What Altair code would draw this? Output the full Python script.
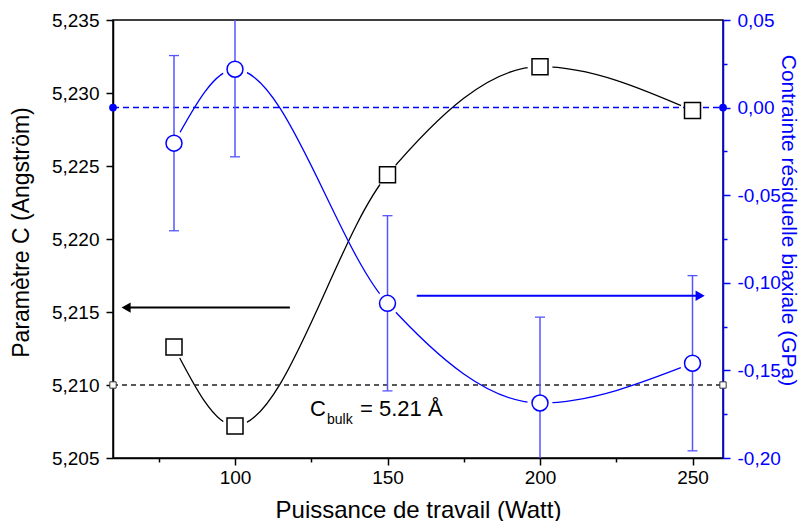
import altair as alt
import pandas as pd

# ---------------- data ----------------
watt = [80, 100, 150, 200, 250]
param_c = [5.2126, 5.2072, 5.2244, 5.2318, 5.2288]          # left axis (Angström)
stress = [-0.0203, 0.0219, -0.1117, -0.1686, -0.1459]        # right axis (GPa)
stress_err = [0.050, 0.050, 0.050, 0.049, 0.050]

x_domain = [60, 260]
c_domain = [5.205, 5.235]
s_domain = [-0.20, 0.05]
c_bulk = 5.21
stress_zero = 0.0

x_ticks = [75, 100, 125, 150, 175, 200, 225, 250]
c_ticks = [5.205, 5.2075, 5.21, 5.2125, 5.215, 5.2175, 5.22, 5.2225, 5.225,
           5.2275, 5.23, 5.2325, 5.235]
s_ticks = [-0.2, -0.175, -0.15, -0.125, -0.1, -0.075, -0.05, -0.025, 0.0,
           0.025, 0.05]

# annotation anchors (data units)
arrow_left = {"x0": 118.0, "x1": 64.3, "y": 5.2153}
arrow_right = {"x0": 159.6, "x1": 252.5, "y": -0.1074}
label_anchor = {"x": 124.6, "y": 5.20788}

BLUE = "#0000ff"
ERR = "#5555ff"
FONT = "Liberation Sans"

df = pd.DataFrame({
    "watt": watt,
    "c": param_c,
    "s": stress,
    "lo": [v - e for v, e in zip(stress, stress_err)],
    "hi": [v + e for v, e in zip(stress, stress_err)],
})

# blue reference line (0 GPa) expressed in left-axis units
zero_in_c = c_domain[0] + (stress_zero - s_domain[0]) / (s_domain[1] - s_domain[0]) * (c_domain[1] - c_domain[0])
ref_c = pd.DataFrame({"watt": x_domain, "c": [c_bulk, c_bulk]})
ref_s = pd.DataFrame({"watt": x_domain, "c": [zero_in_c, zero_in_c]})
arrL = pd.DataFrame([arrow_left])
arrR = pd.DataFrame([arrow_right])
lab = pd.DataFrame([label_anchor])

xs = alt.Scale(domain=x_domain, nice=False, zero=False)
cs = alt.Scale(domain=c_domain, nice=False, zero=False)
ss = alt.Scale(domain=s_domain, nice=False, zero=False)

x_axis = alt.Axis(
    values=x_ticks,
    labelExpr="datum.value % 50 == 0 ? datum.label : ''",
    tickSize={"condition": {"test": "datum.value % 50 == 0", "value": 7}, "value": 4},
    title="Puissance de travail (Watt)",
    titleX=305, titleY=52, titleAlign="center", titleBaseline="middle",
    titleFontSize=24,
    labelPadding=3,
)
left_axis = alt.Axis(
    orient="left",
    values=c_ticks,
    labelExpr="round(datum.value*1000) % 5 == 0 ? replace(format(datum.value, '.3f'), '.', ',') : ''",
    tickSize={"condition": {"test": "round(datum.value*1000) % 5 == 0", "value": 7}, "value": 4},
    title="Paramètre C (Angström)",
    titleX=-92, titleY=212, titleAngle=270, titleAlign="center", titleBaseline="middle",
    titleFontSize=23,
    labelPadding=7,
)
right_axis = alt.Axis(
    orient="right",
    values=s_ticks,
    labelExpr="round(datum.value*1000) % 50 == 0 ? replace(replace(format(datum.value, '.2f'), '.', ','), '−', '-') : ''",
    tickSize={"condition": {"test": "round(datum.value*1000) % 50 == 0", "value": 7}, "value": 4},
    title="Contrainte résiduelle biaxiale (GPa)",
    titleX=64, titleY=200, titleAngle=90, titleAlign="center", titleBaseline="middle",
    titleFontSize=21,
    labelPadding=7,
    domainColor=BLUE, tickColor=BLUE, labelColor=BLUE, titleColor=BLUE,
)

X = alt.X("watt:Q", scale=xs)
YC = lambda f: alt.Y(f, scale=cs)
YS = lambda f: alt.Y(f, scale=ss)

# ---------------- left (black) group ----------------
black_line = alt.Chart(df).mark_line(interpolate="monotone", color="black", strokeWidth=1.3).encode(
    x=alt.X("watt:Q", scale=xs, axis=x_axis),
    y=alt.Y("c:Q", scale=cs, axis=left_axis),
)
black_halo = alt.Chart(df).mark_point(shape="circle", filled=True, color="white", size=620, opacity=1).encode(
    x=X, y=YC("c:Q")
)
blue_ref = alt.Chart(ref_s).mark_line(color=BLUE, strokeWidth=1.5, strokeDash=[6, 4]).encode(
    x=X, y=YC("c:Q")
)
blue_ref_ends = alt.Chart(ref_s).mark_point(shape="circle", filled=True, color=BLUE, size=60, opacity=1, clip=False).encode(
    x=X, y=YC("c:Q")
)
black_ref = alt.Chart(ref_c).mark_line(color="#222222", strokeWidth=1.3, strokeDash=[5, 4]).encode(
    x=X, y=YC("c:Q")
)
black_ref_ends = alt.Chart(ref_c).mark_point(shape="square", filled=True, fill="white", stroke="#333333",
                                             strokeWidth=1, size=40, opacity=1, clip=False).encode(
    x=X, y=YC("c:Q")
)
squares = alt.Chart(df).mark_point(shape="square", filled=True, fill="white", stroke="black",
                                   strokeWidth=1.5, size=256, opacity=1).encode(
    x=X, y=YC("c:Q")
)
arrowL_line = alt.Chart(arrL).mark_rule(color="black", strokeWidth=2).encode(
    x=alt.X("x0:Q", scale=xs), x2="x1:Q", y=YC("y:Q")
)
arrowL_head = alt.Chart(arrL).mark_point(shape="triangle-left", filled=True, color="black", size=110, opacity=1).encode(
    x=alt.X("x1:Q", scale=xs), y=YC("y:Q")
)
txt_C = alt.Chart(lab).mark_text(text="C", align="left", baseline="alphabetic", fontSize=22, font=FONT, color="black").encode(
    x=alt.X("x:Q", scale=xs), y=YC("y:Q")
)
txt_bulk = alt.Chart(lab).mark_text(text="bulk", align="left", baseline="alphabetic", fontSize=14, font=FONT,
                                    color="black", dx=17, dy=8).encode(
    x=alt.X("x:Q", scale=xs), y=YC("y:Q")
)
txt_rest = alt.Chart(lab).mark_text(text="= 5.21 Å", align="left", baseline="alphabetic", fontSize=22, font=FONT,
                                    color="black", dx=50).encode(
    x=alt.X("x:Q", scale=xs), y=YC("y:Q")
)

left = alt.layer(black_line, black_halo, blue_ref, black_ref, black_ref_ends, blue_ref_ends,
                 arrowL_line, arrowL_head, squares, txt_C, txt_bulk, txt_rest)

# ---------------- right (blue) group ----------------
blue_line = alt.Chart(df).mark_line(interpolate="monotone", color=BLUE, strokeWidth=1.3).encode(
    x=X, y=alt.Y("s:Q", scale=ss, axis=right_axis)
)
blue_halo = alt.Chart(df).mark_point(shape="circle", filled=True, color="white", size=620, opacity=1).encode(
    x=X, y=YS("s:Q")
)
err_rule = alt.Chart(df).mark_rule(color=ERR, strokeWidth=1.5, clip=True).encode(
    x=X, y=YS("lo:Q"), y2="hi:Q"
)
cap_lo = alt.Chart(df).mark_tick(orient="horizontal", color=ERR, size=10, thickness=1.3, opacity=1, clip=True).encode(
    x=X, y=YS("lo:Q")
)
cap_hi = alt.Chart(df).mark_tick(orient="horizontal", color=ERR, size=10, thickness=1.3, opacity=1, clip=True).encode(
    x=X, y=YS("hi:Q")
)
circles = alt.Chart(df).mark_point(shape="circle", filled=True, fill="white", stroke=BLUE,
                                   strokeWidth=1.5, size=254, opacity=1).encode(
    x=X, y=YS("s:Q")
)
arrowR_line = alt.Chart(arrR).mark_rule(color=BLUE, strokeWidth=2).encode(
    x=alt.X("x0:Q", scale=xs), x2="x1:Q", y=YS("y:Q")
)
arrowR_head = alt.Chart(arrR).mark_point(shape="triangle-right", filled=True, color=BLUE, size=110, opacity=1).encode(
    x=alt.X("x1:Q", scale=xs), y=YS("y:Q")
)

right = alt.layer(blue_line, blue_halo, err_rule, cap_lo, cap_hi, arrowR_line, arrowR_head, circles)

chart = alt.layer(left, right).resolve_scale(y="independent").properties(
    width=610,
    height=438,
    autosize=alt.AutoSizeParams(type="none"),
    padding={"left": 105, "top": 12, "right": 80, "bottom": 63},
    background="white",
).configure_view(
    stroke="black", strokeWidth=1.5
).configure_axis(
    grid=False,
    domainColor="black", domainWidth=1.5,
    tickColor="black", tickWidth=1.5,
    labelFont=FONT, labelFontSize=19, labelColor="black",
    titleFont=FONT, titleFontWeight="normal", titleColor="black",
)

chart.save("out.html", embed_options={"renderer": "svg", "actions": False})
